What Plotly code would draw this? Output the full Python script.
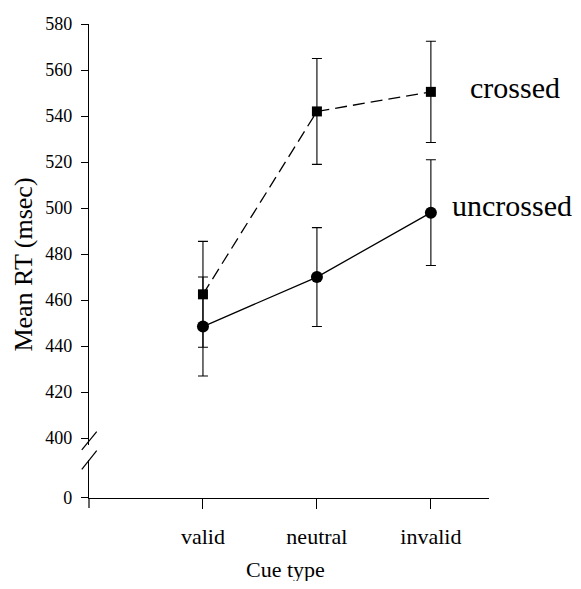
import plotly.graph_objects as go

categories = ["valid", "neutral", "invalid"]
cat_pos = [1, 2, 3]
crossed = [462.5, 542, 550.5]
crossed_err = [23, 23, 22]
uncrossed = [448.5, 470, 498]
uncrossed_err = [21.5, 21.5, 23]
y_ticks = [400, 420, 440, 460, 480, 500, 520, 540, 560, 580]

FONT = "Liberation Serif"

fig = go.Figure()
fig.add_trace(go.Scatter(
    x=cat_pos, y=crossed, mode="lines+markers", name="crossed",
    line=dict(color="black", width=1.3, dash="12px,6px"),
    marker=dict(symbol="square", size=10, color="black"),
    error_y=dict(type="data", array=crossed_err, color="black", thickness=1.1, width=5),
    cliponaxis=False,
))
fig.add_trace(go.Scatter(
    x=cat_pos, y=uncrossed, mode="lines+markers", name="uncrossed",
    line=dict(color="black", width=1.3),
    marker=dict(symbol="circle", size=12, color="black"),
    error_y=dict(type="data", array=uncrossed_err, color="black", thickness=1.1, width=5),
    cliponaxis=False,
))
# empty trace so the lower (broken) axis segment is created
fig.add_trace(go.Scatter(x=[None], y=[None], xaxis="x", yaxis="y2",
                         mode="markers", showlegend=False, hoverinfo="skip"))

fig.update_layout(
    width=565, height=573,
    margin=dict(l=81, r=84, t=16, b=83, autoexpand=False),
    paper_bgcolor="white", plot_bgcolor="white",
    showlegend=False,
    font=dict(family=FONT, color="black", size=18),
    xaxis=dict(
        range=[0, 3.51], tickvals=cat_pos, ticktext=categories,
        showline=True, linecolor="black", linewidth=1.2,
        ticks="outside", ticklen=10, tickcolor="black", tickwidth=1,
        showgrid=False, zeroline=False, anchor="y2", automargin=False,
        tickfont=dict(size=22, family=FONT), ticklabelstandoff=8,
    ),
    yaxis=dict(
        domain=[0.1118, 1.0], range=[397, 580], tickvals=y_ticks,
        showline=True, linecolor="black", linewidth=1.2,
        ticks="outside", ticklen=7, tickcolor="black", tickwidth=1,
        showgrid=False, zeroline=False, anchor="x", automargin=False,
        tickfont=dict(size=18, family=FONT), ticklabelstandoff=5,
    ),
    yaxis2=dict(
        domain=[0.0, 0.0802], range=[0, 20], tickvals=[0],
        showline=True, linecolor="black", linewidth=1.2,
        ticks="outside", ticklen=7, tickcolor="black", tickwidth=1,
        showgrid=False, zeroline=False, anchor="x", automargin=False,
        tickfont=dict(size=18, family=FONT), ticklabelstandoff=5,
    ),
    annotations=[
        dict(x=3.325, y=552.6, xref="x", yref="y", text="crossed", showarrow=False,
             xanchor="left", yanchor="middle", font=dict(size=30, family=FONT)),
        dict(x=3.17, y=501.3, xref="x", yref="y", text="uncrossed", showarrow=False,
             xanchor="left", yanchor="middle", font=dict(size=30, family=FONT)),
        dict(x=-0.163, y=0.492, xref="paper", yref="paper", text="Mean RT (msec)",
             showarrow=False, textangle=-90, xanchor="center", yanchor="middle",
             font=dict(size=26, family=FONT)),
        dict(x=0.49, y=-0.151, xref="paper", yref="paper", text="Cue type",
             showarrow=False, xanchor="center", yanchor="middle",
             font=dict(size=22, family=FONT)),
    ],
    shapes=[
        dict(type="line", xref="paper", yref="paper", x0=-0.018, y0=0.1013, x1=0.0193, y1=0.1399,
             line=dict(color="black", width=1.2)),
        dict(type="line", xref="paper", yref="paper", x0=-0.018, y0=0.0605, x1=0.0193, y1=0.0998,
             line=dict(color="black", width=1.2)),
        dict(type="line", xref="paper", yref="paper", x0=0, y0=0, x1=0, y1=-0.021,
             line=dict(color="black", width=1.2)),
    ],
)

fig.write_html("out.html")
